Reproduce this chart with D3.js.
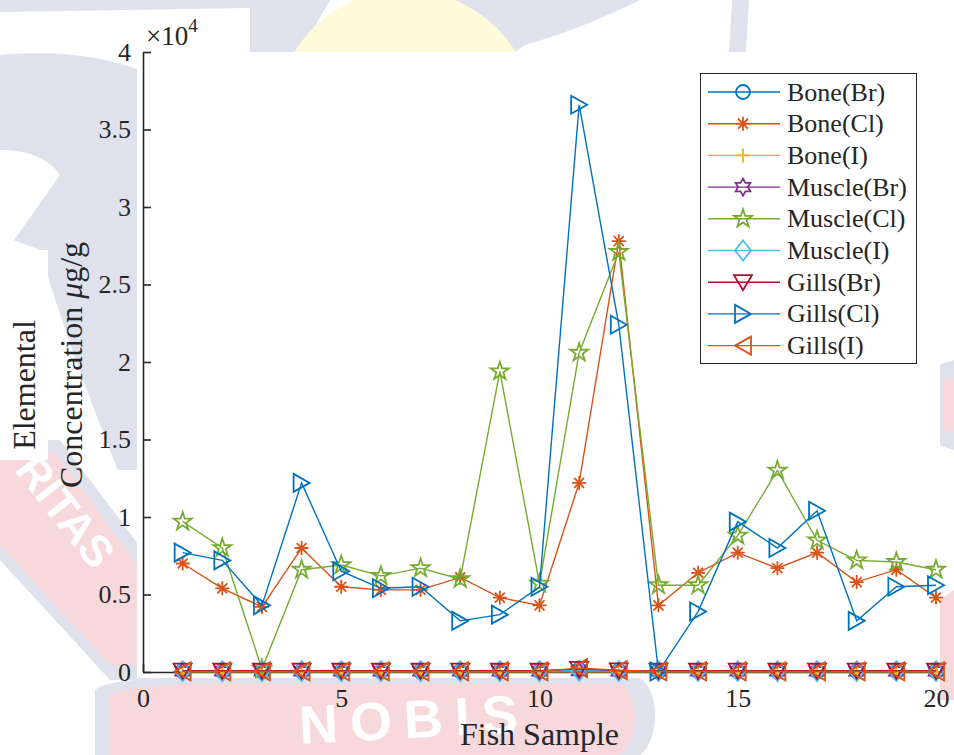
<!DOCTYPE html>
<html>
<head>
<meta charset="utf-8">
<script src="https://cdn.jsdelivr.net/npm/d3@7"></script>
<style>
  html, body { margin: 0; padding: 0; background: #ffffff; }
  svg { display: block; }
  text.serif { font-family: "Liberation Serif", "Times New Roman", serif; fill: #262626; }
</style>
</head>
<body>
<svg id="chart" width="954" height="755"></svg>
<script>
// ---------------- DATA ----------------
const fishSamples = [1,2,3,4,5,6,7,8,9,10,11,12,13,14,15,16,17,18,19,20];
const seriesNames = ["Bone(Br)","Bone(Cl)","Bone(I)","Muscle(Br)","Muscle(Cl)","Muscle(I)","Gills(Br)","Gills(Cl)","Gills(I)"];
const boneBr    = [60, 50, 40, 60, 50, 50, 40, 50, 60, 60, 150, 80, 60, 50, 60, 50, 50, 60, 50, 60];
const boneCl    = [7000, 5400, 4200, 8000, 5500, 5300, 5300, 6100, 4800, 4300, 12200, 27800, 4300, 6400, 7700, 6700, 7700, 5800, 6600, 4800];
const boneI     = [15, 15, 15, 15, 15, 15, 15, 15, 15, 15, 20, 15, 15, 15, 15, 15, 15, 15, 15, 15];
const muscleBr  = [40, 40, 40, 40, 40, 40, 40, 40, 40, 40, 60, 40, 40, 40, 40, 40, 40, 40, 40, 40];
const muscleCl  = [9700, 8000, 200, 6600, 6900, 6200, 6700, 6000, 19400, 5700, 20600, 27100, 5600, 5600, 8800, 13000, 8500, 7200, 7100, 6600];
const muscleI   = [60, 60, 60, 60, 60, 60, 60, 60, 60, 60, 80, 60, 60, 60, 60, 60, 60, 60, 60, 60];
const gillsBr   = [90, 80, 80, 90, 80, 80, 80, 90, 80, 80, 200, 100, 80, 80, 90, 80, 80, 90, 80, 80];
const gillsCl   = [7700, 7200, 4300, 12200, 6500, 5400, 5500, 3300, 3700, 5500, 36600, 22400, 30, 3900, 9700, 8000, 10400, 3300, 5500, 5600];
const gillsI    = [40, 40, 40, 40, 40, 40, 40, 40, 40, 40, 250, 120, 40, 40, 40, 40, 40, 40, 40, 40];
const seriesValues = [boneBr, boneCl, boneI, muscleBr, muscleCl, muscleI, gillsBr, gillsCl, gillsI];
const seriesColors = ["#0072BD","#D95319","#EDB120","#7E2F8E","#77AC30","#4DBEEE","#A2142F","#0072BD","#D95319"];
const seriesMarkers = ["circle","asterisk","plus","hexagram","pentagram","diamond","triangleDown","triangleRight","triangleLeft"];
const yTicks = [0, 5000, 10000, 15000, 20000, 25000, 30000, 35000, 40000];
const xTicks = [0, 5, 10, 15, 20];

// ---------------- SETUP ----------------
const svg = d3.select("#chart");
const W = 954, H = 755;
const mLeft = 143, mRight = 936, mTop = 52, mBottom = 672;

// ---- faint background watermark ----
const wm = svg.append("g");
const gray = "#dfe2ec", yellow = "#fdfbda", pink = "#f7d9dc";
wm.append("rect").attr("x",0).attr("y",0).attr("width",W).attr("height",H).attr("fill","#ffffff");
wm.append("path").attr("fill",gray).attr("d","M0,0 L260,0 L250,8 L0,12 Z");
wm.append("path").attr("fill",gray).attr("d","M0,55 C50,50 110,55 150,75 L150,470 L118,470 C90,400 60,320 40,250 L0,235 Z");
wm.append("path").attr("fill","#ffffff").attr("d","M0,150 C30,150 50,160 60,175 L0,260 Z");
wm.append("path").attr("fill",gray).attr("d","M250,0 L330,0 L300,52 L250,52 Z");
wm.append("path").attr("fill",gray).attr("d","M440,0 L640,0 C600,20 560,35 525,45 L515,52 L505,52 Z");
wm.append("path").attr("fill",gray).attr("d","M732,0 L749,0 L746,52 L729,52 Z");
wm.append("circle").attr("cx",405).attr("cy",120).attr("r",130).attr("fill",yellow);
wm.append("path").attr("fill",gray).attr("d","M0,440 L60,440 L150,560 L150,680 L110,680 L0,560 Z");
wm.append("path").attr("fill",pink).attr("d","M0,450 L55,452 L145,575 L145,665 L110,665 L0,545 Z");
wm.append("text").attr("transform","translate(14,470) rotate(52)")
  .attr("font-size",44).style("font-family","'Liberation Sans', sans-serif").style("fill","#ffffff")
  .style("font-weight","bold").text("RITAS");
wm.append("path").attr("fill",gray).attr("d","M95,690 C110,676 200,676 260,678 L640,678 C660,690 660,740 640,755 L95,755 Z");
wm.append("path").attr("fill",pink).attr("d","M110,695 C130,683 210,683 270,684 L620,684 C640,695 640,740 620,755 L110,755 Z");
wm.append("text").attr("transform","translate(300,744) rotate(-3)")
  .attr("font-size",54).style("font-family","'Liberation Sans', sans-serif").style("fill","#ffffff")
  .style("font-weight","bold").attr("letter-spacing",12).text("NOBIS");
wm.append("path").attr("fill",gray).attr("d","M938,365 L954,360 L954,450 L938,445 Z");
wm.append("path").attr("fill",pink).attr("d","M944,380 L954,378 L954,432 L944,430 Z");
wm.append("path").attr("fill",pink).attr("d","M940,600 L954,590 L954,700 L940,700 Z");
wm.append("rect").attr("x",0).attr("y",250).attr("width",48).attr("height",210).attr("fill","#ffffff");
wm.append("rect").attr("x",137).attr("y",mTop).attr("width",mRight-137+4).attr("height",678-mTop).attr("fill","#ffffff");

// ---------------- SCALES ----------------
const x = d3.scaleLinear().domain([0,20]).range([mLeft,mRight]);
const y = d3.scaleLinear().domain([0,40000]).range([mBottom,mTop]);

// ---------------- AXES ----------------
const axisColor = "#262626";
const yAxis = svg.append("g").attr("transform",`translate(${mLeft},0)`)
  .call(d3.axisLeft(y).tickValues(yTicks).tickSizeInner(-8).tickSizeOuter(0).tickPadding(12)
        .tickFormat(d => d3.format("~g")(d/10000)));
const xAxis = svg.append("g").attr("transform",`translate(0,${mBottom})`)
  .call(d3.axisBottom(x).tickValues(xTicks).tickSizeInner(-8).tickSizeOuter(0).tickPadding(17)
        .tickFormat(d3.format("d")));
[yAxis, xAxis].forEach(a => {
  a.select(".domain").attr("stroke",axisColor).attr("stroke-width",1.6);
  a.selectAll(".tick line").attr("stroke",axisColor).attr("stroke-width",1.6);
  a.selectAll(".tick text").attr("class","serif").attr("font-size",26);
});

const ex = svg.append("text").attr("class","serif").attr("x",146).attr("y",45).attr("font-size",27);
ex.append("tspan").text("×10");
ex.append("tspan").attr("font-size",19).attr("dy",-13).text("4");

svg.append("text").attr("class","serif").attr("x",(mLeft+mRight)/2).attr("y",745).attr("text-anchor","middle")
  .attr("font-size",32).text("Fish Sample");
svg.append("text").attr("class","serif").attr("transform","translate(35,385) rotate(-90)").attr("text-anchor","middle")
  .attr("font-size",32).text("Elemental");
const yl2 = svg.append("text").attr("class","serif").attr("transform","translate(82,365) rotate(-90)").attr("text-anchor","middle")
  .attr("font-size",32);
yl2.append("tspan").text("Concentration ");
yl2.append("tspan").attr("font-style","italic").text("μ");
yl2.append("tspan").text("g/g");

// ---------------- MARKERS ----------------
function markerPath(type) {
  const pts = (arr) => "M" + arr.map(p => p.join(",")).join("L") + "Z";
  switch (type) {
    case "circle": { const r = 7; return `M${-r},0A${r},${r} 0 1,0 ${r},0A${r},${r} 0 1,0 ${-r},0Z`; }
    case "asterisk": { const r = 7, d = r*0.7071;
      return `M${-r},0L${r},0M0,${-r}L0,${r}M${-d},${-d}L${d},${d}M${-d},${d}L${d},${-d}`; }
    case "plus": { const r = 7; return `M${-r},0L${r},0M0,${-r}L0,${r}`; }
    case "diamond": return pts([[0,-10],[8,0],[0,10],[-8,0]]);
    case "triangleDown": return pts([[-9,-7],[9,-7],[0,8]]);
    case "triangleRight": return pts([[-8,-9],[8,0],[-8,9]]);
    case "triangleLeft": return pts([[8,-9],[-8,0],[8,9]]);
    case "pentagram": {
      const R = 9.5, r = R*0.382, a = [];
      for (let i = 0; i < 10; i++) { const ang = -Math.PI/2 + i*Math.PI/5; const rr = i%2 ? r : R;
        a.push([ (rr*Math.cos(ang)).toFixed(2), (rr*Math.sin(ang)).toFixed(2) ]); }
      return pts(a);
    }
    case "hexagram": {
      const R = 8.5, r = R/Math.sqrt(3), a = [];
      for (let i = 0; i < 12; i++) { const ang = -Math.PI/2 + i*Math.PI/6; const rr = i%2 ? r : R;
        a.push([ (rr*Math.cos(ang)).toFixed(2), (rr*Math.sin(ang)).toFixed(2) ]); }
      return pts(a);
    }
  }
}

// ---------------- SERIES ----------------
const line = d3.line().x((d,i) => x(fishSamples[i])).y(d => y(d));
const plot = svg.append("g");
seriesValues.forEach((vals, k) => {
  const g = plot.append("g");
  g.append("path").datum(vals).attr("d", line).attr("fill","none")
    .attr("stroke", seriesColors[k]).attr("stroke-width",1.4);
  g.selectAll("path.m").data(vals).enter().append("path").attr("class","m")
    .attr("transform",(d,i) => `translate(${x(fishSamples[i])},${y(d)})`)
    .attr("d", markerPath(seriesMarkers[k]))
    .attr("fill","none").attr("stroke", seriesColors[k]).attr("stroke-width",1.8);
});

// ---------------- LEGEND ----------------
const lg = svg.append("g");
lg.append("rect").attr("x",700.5).attr("y",73.5).attr("width",216).attr("height",290)
  .attr("fill","#ffffff").attr("stroke",axisColor).attr("stroke-width",1);
seriesNames.forEach((name, k) => {
  const cy = 92 + k*31.7;
  lg.append("line").attr("x1",708).attr("x2",780).attr("y1",cy).attr("y2",cy)
    .attr("stroke",seriesColors[k]).attr("stroke-width",1.4);
  lg.append("path").attr("transform",`translate(743,${cy})`).attr("d",markerPath(seriesMarkers[k]))
    .attr("fill","none").attr("stroke",seriesColors[k]).attr("stroke-width",1.8);
  lg.append("text").attr("class","serif").attr("x",787).attr("y",cy).attr("dy","0.33em").attr("font-size",26).text(name);
});
</script>
</body>
</html>
